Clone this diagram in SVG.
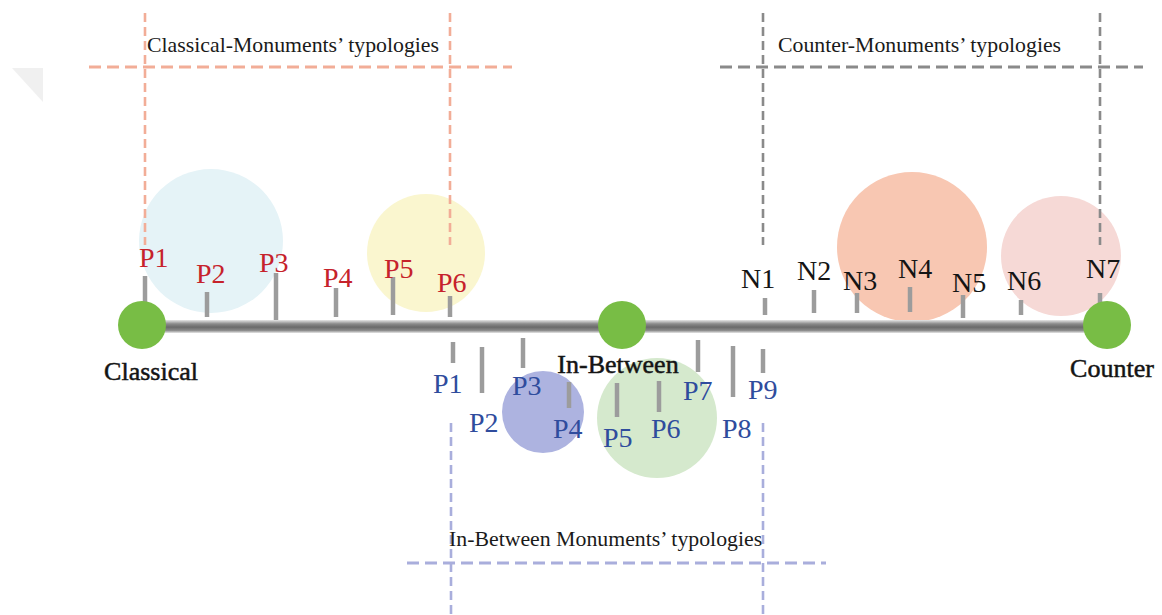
<svg xmlns="http://www.w3.org/2000/svg" width="1162" height="615" viewBox="0 0 1162 615">
<style>
text{font-family:"Liberation Serif","Times New Roman",serif}
.lab{font-size:28px}
.red{fill:#c6222b}
.blue{fill:#2f4c9d}
.blk{fill:#141414}
.title{font-size:21.8px;fill:#1a1a1a}
.end{font-size:26px;fill:#141414;stroke:#141414;stroke-width:0.5}
.tick{stroke:#9c9c9c;stroke-width:4.5}
.hd{fill:none;stroke-width:3;stroke-dasharray:12 6}
.vd{fill:none;stroke-width:2.6;stroke-dasharray:9 5}
.or{stroke:#f2ad97}
.gr{stroke:#8a8a8a}
.bl{stroke:#a9aedc}
.endc{fill:#78bd45}
</style>
<defs>
<linearGradient id="lineg" x1="0" y1="0" x2="0" y2="1">
<stop offset="0" stop-color="#e6e6e6"/>
<stop offset="0.3" stop-color="#8a8a8a"/>
<stop offset="0.55" stop-color="#6a6a6a"/>
<stop offset="0.8" stop-color="#8a8a8a"/>
<stop offset="1" stop-color="#e6e6e6"/>
</linearGradient>
</defs>
<rect width="1162" height="615" fill="#ffffff"/>
<polygon points="12,68 43,68 43,102" fill="#f0f0f0"/>

<g id="regions">
<circle cx="211" cy="241" r="72" fill="#e5f3f7"/>
<circle cx="426" cy="253" r="59" fill="#faf6cf"/>
<circle cx="912" cy="247" r="75" fill="#f8c7b2"/>
<circle cx="1061" cy="256" r="60" fill="#f6d9d6"/>
<circle cx="543" cy="412" r="41" fill="#adb3e0"/>
<circle cx="657" cy="418" r="60" fill="#d5e9cd"/>
</g>

<g id="frames">
<line class="hd or" x1="89" y1="67" x2="512" y2="67"/>
<line class="vd or" x1="145" y1="13" x2="145" y2="245"/>
<line class="vd or" x1="450" y1="13" x2="450" y2="245"/>
<line class="hd gr" x1="720" y1="67" x2="1143" y2="67"/>
<line class="vd gr" x1="763" y1="13" x2="763" y2="245"/>
<line class="vd gr" x1="1100" y1="13" x2="1100" y2="245"/>
<line class="hd bl" x1="407" y1="563" x2="826" y2="563"/>
<line class="vd bl" x1="451" y1="423" x2="451" y2="615"/>
<line class="vd bl" x1="763" y1="423" x2="763" y2="615"/>
<text class="title" x="147" y="52">Classical-Monuments’ typologies</text>
<text class="title" x="778" y="52">Counter-Monuments’ typologies</text>
<text class="title" x="449" y="546">In-Between Monuments’ typologies</text>
</g>

<g id="connectors">
<rect x="142" y="320" width="964" height="13" fill="url(#lineg)"/>
</g>

<g id="classical-points">
<line class="tick" x1="145" y1="276" x2="145" y2="305"/>
<line class="tick" x1="207" y1="292" x2="207" y2="317"/>
<line class="tick" x1="276" y1="273" x2="276" y2="320"/>
<line class="tick" x1="336" y1="288" x2="336" y2="317"/>
<line class="tick" x1="393" y1="277" x2="393" y2="315"/>
<line class="tick" x1="450" y1="296" x2="450" y2="317"/>
<text class="lab red" x="139" y="267">P1</text>
<text class="lab red" x="196" y="283">P2</text>
<text class="lab red" x="259" y="272">P3</text>
<text class="lab red" x="323" y="287">P4</text>
<text class="lab red" x="384" y="278">P5</text>
<text class="lab red" x="437" y="292">P6</text>
</g>

<g id="counter-points">
<line class="tick" x1="765" y1="298" x2="765" y2="315"/>
<line class="tick" x1="814" y1="290" x2="814" y2="313"/>
<line class="tick" x1="857" y1="293" x2="857" y2="313"/>
<line class="tick" x1="910" y1="287" x2="910" y2="312"/>
<line class="tick" x1="963" y1="295" x2="963" y2="318"/>
<line class="tick" x1="1021" y1="300" x2="1021" y2="315"/>
<line class="tick" x1="1100" y1="293" x2="1100" y2="305"/>
<text class="lab blk" x="741" y="288">N1</text>
<text class="lab blk" x="797" y="280">N2</text>
<text class="lab blk" x="843" y="290">N3</text>
<text class="lab blk" x="898" y="278">N4</text>
<text class="lab blk" x="952" y="292">N5</text>
<text class="lab blk" x="1007" y="290">N6</text>
<text class="lab blk" x="1086" y="278">N7</text>
</g>

<g id="inbetween-points">
<line class="tick" x1="453" y1="342" x2="453" y2="363"/>
<line class="tick" x1="482" y1="347" x2="482" y2="393"/>
<line class="tick" x1="523" y1="338" x2="523" y2="368"/>
<line class="tick" x1="569" y1="382" x2="569" y2="408"/>
<line class="tick" x1="617" y1="383" x2="617" y2="417"/>
<line class="tick" x1="659" y1="381" x2="659" y2="412"/>
<line class="tick" x1="698" y1="340" x2="698" y2="372"/>
<line class="tick" x1="733" y1="346" x2="733" y2="397"/>
<line class="tick" x1="763" y1="349" x2="763" y2="373"/>
<text class="lab blue" x="433" y="393">P1</text>
<text class="lab blue" x="469" y="432">P2</text>
<text class="lab blue" x="512" y="395">P3</text>
<text class="lab blue" x="553" y="438">P4</text>
<text class="lab blue" x="603" y="447">P5</text>
<text class="lab blue" x="651" y="438">P6</text>
<text class="lab blue" x="683" y="400">P7</text>
<text class="lab blue" x="722" y="438">P8</text>
<text class="lab blue" x="748" y="399">P9</text>
</g>

<g id="node-classical">
<circle class="endc" cx="142" cy="325" r="24"/>
<text class="end" x="151" y="380" text-anchor="middle">Classical</text>
</g>
<g id="node-inbetween">
<circle class="endc" cx="622" cy="325" r="24"/>
<text class="end" x="618" y="373" text-anchor="middle">In-Between</text>
</g>
<g id="node-counter">
<circle class="endc" cx="1107" cy="325" r="24"/>
<text class="end" x="1112" y="377" text-anchor="middle">Counter</text>
</g>
</svg>
